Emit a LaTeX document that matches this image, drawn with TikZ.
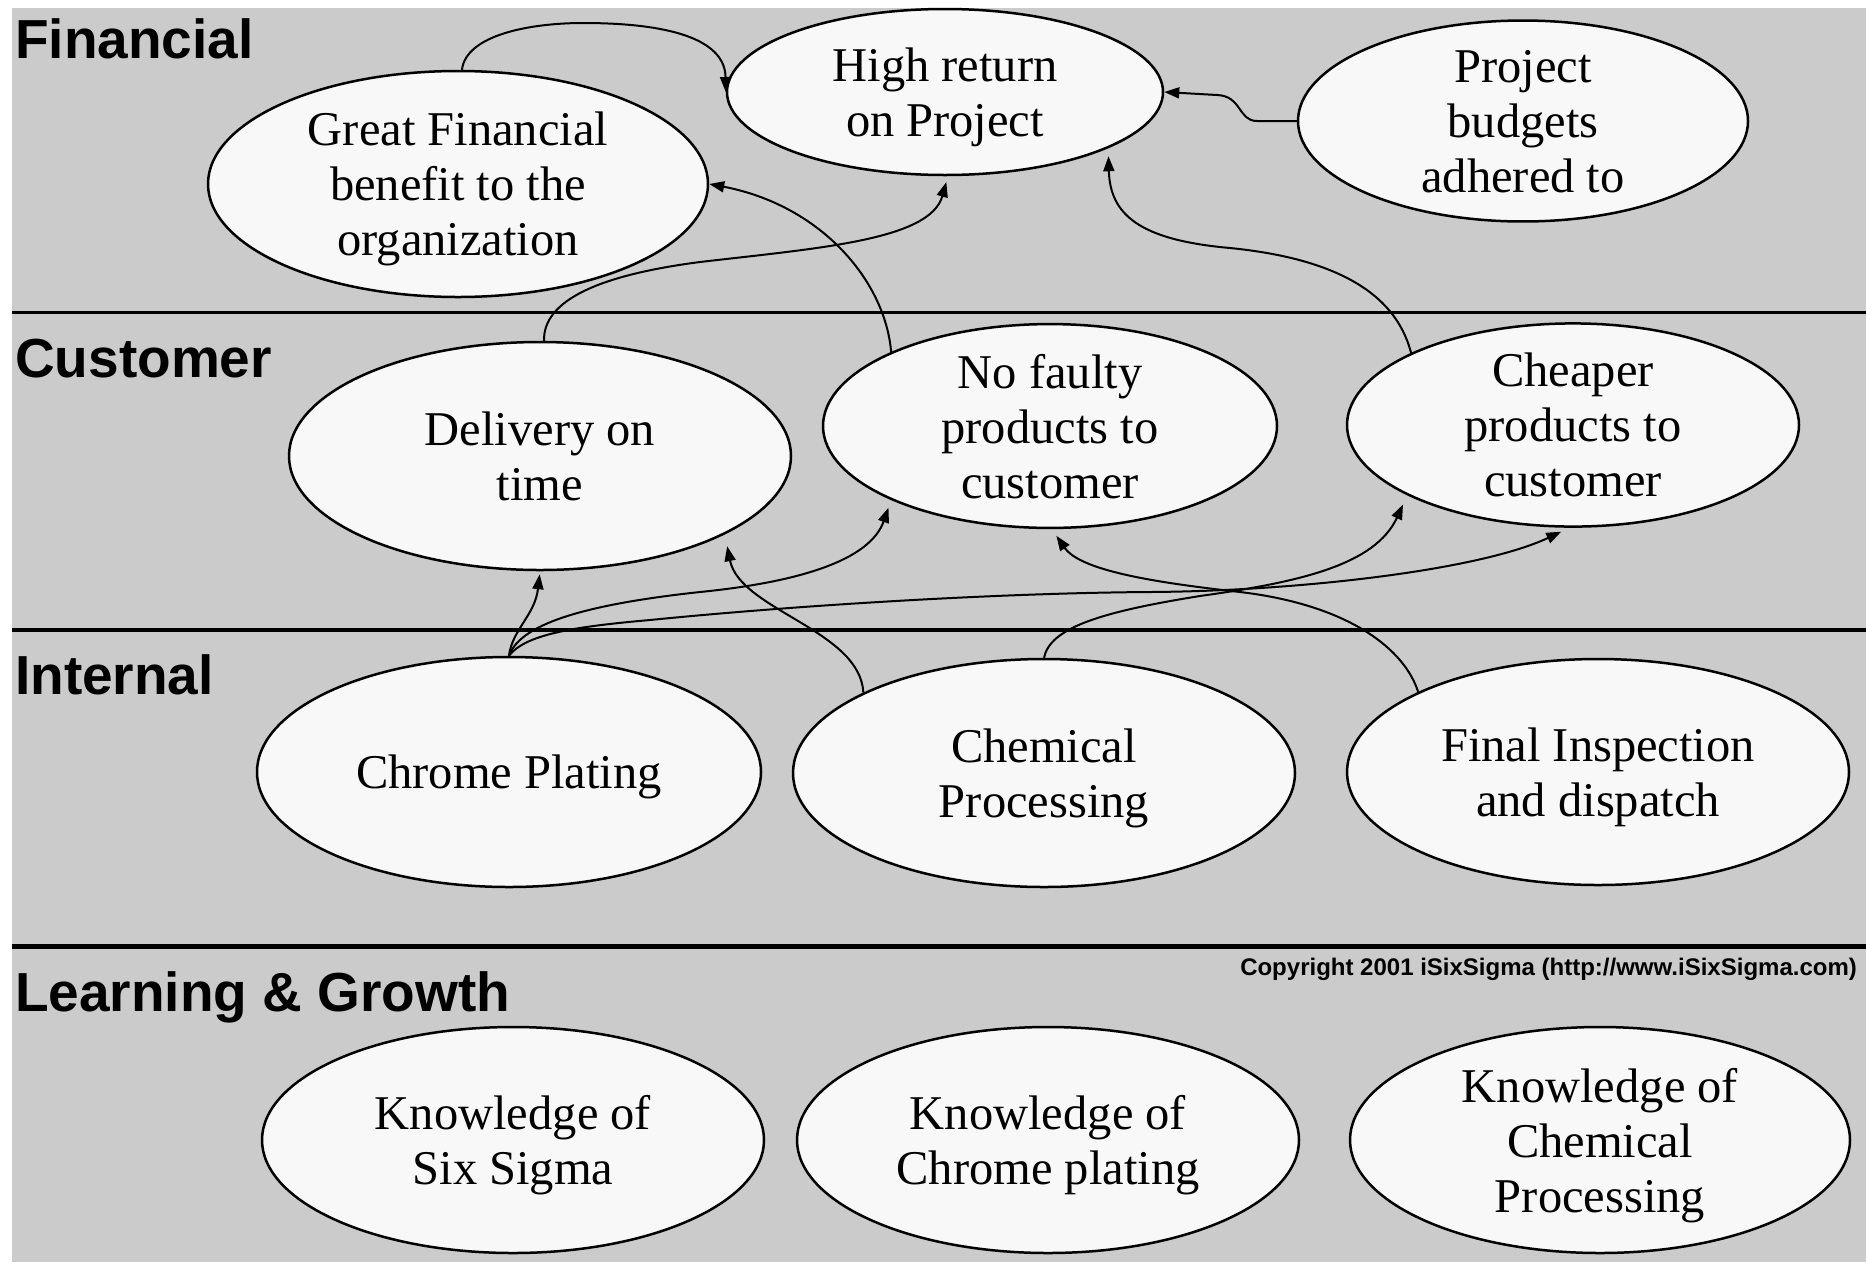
\documentclass[tikz,border=0pt]{standalone}
\usepackage{fontspec}
\setmainfont{Liberation Serif}
\newfontfamily\lanefont{Liberation Sans}
\usetikzlibrary{shapes.geometric,arrows.meta}

\definecolor{panel}{HTML}{CBCBCB}
\definecolor{bubble}{HTML}{F8F8F8}

\begin{document}
\begin{tikzpicture}[x=1pt,y=-1pt,
  goal/.style={ellipse, draw=black, line width=2.5pt, fill=bubble, inner sep=0pt,
    align=center, text depth=0pt, font=\fontsize{48.5}{55}\selectfont},
  lane/.style={anchor=base west, inner sep=0pt,
    font=\lanefont\bfseries\fontsize{55}{60}\selectfont},
  link/.style={draw=black, line width=2pt, -{Triangle[length=15pt,width=11pt]}},
  divider/.style={draw=black}
]
\useasboundingbox (0,0) rectangle (1866,1262);
\fill[white] (0,0) rectangle (1866,1262);
\fill[panel] (12,8) rectangle (1866,1262);

% perspective dividers
\draw[divider, line width=3pt]   (12,312) -- (1866,312);
\draw[divider, line width=4.5pt] (12,630) -- (1866,630);
\draw[divider, line width=5pt]   (12,946) -- (1866,946);

% perspective names
\node[lane] (lfin) at (15,58)   {Financial};
\node[lane] (lcus) at (15,377)  {Customer};
\node[lane] (lint) at (15,694)  {Internal};
\node[lane] (llg)  at (15,1011) {Learning \& Growth};

\node[anchor=base east, inner sep=0pt, font=\lanefont\bfseries\fontsize{24}{26}\selectfont]
  (copy) at (1857,975) {Copyright 2001 iSixSigma (http://www.iSixSigma.com)};

% Financial
\node[goal, minimum width=500pt, minimum height=226pt] (GF) at (458,184) {Great Financial\\benefit to the\\organization};
\node[goal, minimum width=436pt, minimum height=166pt] (HR) at (945,92) {High return\\on Project};
\node[goal, minimum width=450pt, minimum height=198pt] (PB) at (1523,121) {Project\\budgets\\adhered to};

% Customer
\node[goal, minimum width=502pt, minimum height=228pt] (DT) at (540,456) {Delivery on\\time};
\node[goal, minimum width=454pt, minimum height=198pt] (NF) at (1050,426) {No faulty\\products to\\customer};
\node[goal, minimum width=452pt, minimum height=196pt] (CH) at (1573,425) {Cheaper\\products to\\customer};

% Internal
\node[goal, minimum width=504pt, minimum height=230pt] (CP) at (509,772) {Chrome Plating};
\node[goal, minimum width=502pt, minimum height=228pt] (CPr) at (1044,773) {Chemical\\Processing};
\node[goal, minimum width=502pt, minimum height=226pt] (FI) at (1598,772) {Final Inspection\\and dispatch};

% Learning & Growth
\node[goal, minimum width=502pt, minimum height=226pt] (KS) at (513,1140) {Knowledge of\\Six Sigma};
\node[goal, minimum width=502pt, minimum height=226pt] (KC) at (1048,1140) {Knowledge of\\Chrome plating};
\node[goal, minimum width=500pt, minimum height=226pt] (KCP) at (1600,1140) {Knowledge of\\Chemical\\Processing};

% cause and effect links
\draw[link] (GF.88) .. controls (466,35) and (530,23) .. (583,23)
  .. controls (640,23) and (725,30) .. (HR.west);
\draw[link] (PB.west) -- (1257,121) .. controls (1238,121) and (1242,96) .. (1217,95) -- (HR.east);
\draw[link, shorten >=6pt] (DT.88) .. controls (543,300) and (600,275) .. (700,262)
  .. controls (820,248) and (930,240) .. (HR.-88);
\draw[link] (NF.155) .. controls (885,280) and (820,205) .. (GF.east);
\draw[link, shorten >=8pt] (CH.156) .. controls (1395,290) and (1330,258) .. (1230,248)
  .. controls (1140,240) and (1110,215) .. (HR.-19);

\draw[link, shorten >=3pt] (CP.north) .. controls (512,630) and (535,615) .. (DT.south);
\draw[link, shorten >=8pt] (CP.north) .. controls (520,625) and (580,605) .. (700,592)
  .. controls (800,582) and (870,560) .. (NF.-155);
\draw[link, shorten >=9pt] (CP.north) .. controls (525,635) and (570,627) .. (650,620)
  .. controls (800,605) and (1000,593) .. (1150,592)
  .. controls (1300,591) and (1480,570) .. (CH.-92);
\draw[link, shorten >=10pt] (CPr.north) .. controls (1050,628) and (1100,612) .. (1200,596)
  .. controls (1300,582) and (1375,565) .. (CH.-157);
\draw[link, shorten >=12pt] (CPr.156) .. controls (860,630) and (740,610) .. (DT.-23);
\draw[link, shorten >=8pt] (FI.156) .. controls (1405,650) and (1350,605) .. (1240,592)
  .. controls (1150,582) and (1080,570) .. (NF.-89);
\end{tikzpicture}
\end{document}
